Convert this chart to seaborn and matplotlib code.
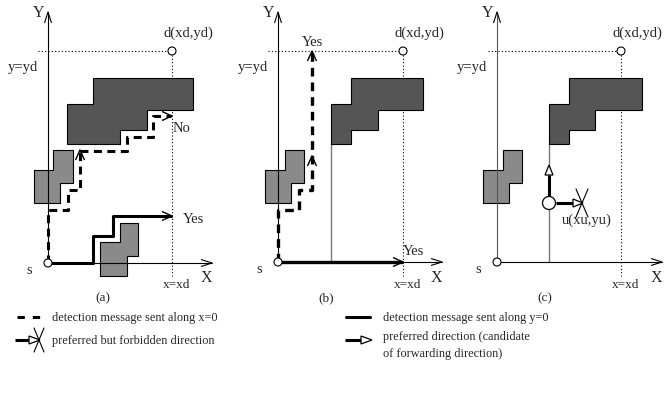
import matplotlib
matplotlib.use("Agg")
import matplotlib.pyplot as plt
import seaborn as sns
import numpy as np
import pandas as pd
from matplotlib.patches import Polygon, Circle

sns.set_theme(style="white")
plt.rcParams['font.family'] = ['Liberation Serif', 'DejaVu Serif']

# ---------------- data (pixel-space diagram geometry) ----------------
panel_labels = ["(a)", "(b)", "(c)"]
origins = [(48, 264), (278, 263), (497, 263)]
dest = [(172, 52), (403, 52), (621, 52)]
x_axis_end = [212, 442, 662]
y_axis_top = 13
dotted_left = [38, 268, 488]

dark_a = [(93, 79), (193, 79), (193, 111), (147, 111), (147, 131), (120, 131), (120, 145), (67, 145), (67, 105), (93, 105)]
dark_b = [(351, 79), (423, 79), (423, 111), (378, 111), (378, 131), (351, 131), (351, 145), (331, 145), (331, 105), (351, 105)]
dark_c = [(569, 79), (642, 79), (642, 111), (595, 111), (595, 131), (569, 131), (569, 145), (549, 145), (549, 105), (569, 105)]
light_a = [(53, 151), (73, 151), (73, 184), (60, 184), (60, 204), (34, 204), (34, 171), (53, 171)]
light_a2 = [(120, 224), (138, 224), (138, 257), (127, 257), (127, 277), (100, 277), (100, 243), (120, 243)]
light_b = [(285, 151), (304, 151), (304, 184), (291, 184), (291, 204), (265, 204), (265, 171), (285, 171)]
light_c = [(503, 151), (522, 151), (522, 184), (509, 184), (509, 204), (483, 204), (483, 171), (503, 171)]

dash_a1 = [(48, 264), (48, 211), (68, 211), (68, 191), (80, 191), (80, 153)]
dash_a2 = [(80, 152), (127, 152), (127, 138), (153, 138), (153, 117), (171, 117)]
solid_a = [(48, 264), (93, 264), (93, 237), (113, 237), (113, 217), (171, 217)]
dash_b = [(278, 263), (278, 211), (299, 211), (299, 191), (312, 191), (312, 53)]
solid_b = [(278, 263), (402, 263)]
thin_b = [(331, 145), (331, 263)]
thin_c = [(549, 145), (549, 263)]

node_u = (549, 204)

legend_text = ["detection message sent along x=0", "detection message sent along y=0",
               "preferred but forbidden direction", "preferred direction (candidate\nof forwarding direction)"]

# ---------------- drawing ----------------
fig = plt.figure(figsize=(6.67, 4.02), dpi=100)
ax = fig.add_axes([0, 0, 1, 1])
ax.set_xlim(0, 667)
ax.set_ylim(402, 0)
ax.axis("off")

FS = 10.5
DARK = "#555555"
LIGHT = "#8a8a8a"


def path(pts, **kw):
    df = pd.DataFrame(pts, columns=["x", "y"])
    sns.lineplot(data=df, x="x", y="y", sort=False, estimator=None, ax=ax, legend=False, **kw)


def chevron(tip, d, L=10, W=4.5, lw=1.0):
    d = np.array(d, float)
    d /= np.linalg.norm(d)
    p = np.array([-d[1], d[0]])
    t = np.array(tip, float)
    a = t - L * d + W * p
    b = t - L * d - W * p
    ax.plot([a[0], t[0], b[0]], [a[1], t[1], b[1]], color="black", lw=lw, solid_capstyle="butt", zorder=6)


def hollow_arrow(start, end, lw=2.2, head_len=10, head_w=4):
    s = np.array(start, float)
    e = np.array(end, float)
    d = (e - s) / np.linalg.norm(e - s)
    p = np.array([-d[1], d[0]])
    base = e - head_len * d
    ax.plot([s[0], base[0]], [s[1], base[1]], color="black", lw=lw, solid_capstyle="butt")
    tri = [base + head_w * p, e, base - head_w * p]
    ax.add_patch(Polygon(tri, closed=True, facecolor="white", edgecolor="black", lw=0.9, zorder=5))


def cross(c, w=6, h=14):
    ax.plot([c[0] - w, c[0] + w], [c[1] - h, c[1] + h], color="black", lw=0.8, zorder=6)
    ax.plot([c[0] + w, c[0] - w], [c[1] - h, c[1] + h], color="black", lw=0.8, zorder=6)


# obstacles
for poly, col in [(dark_a, DARK), (dark_b, DARK), (dark_c, DARK),
                  (light_a, LIGHT), (light_a2, LIGHT), (light_b, LIGHT), (light_c, LIGHT)]:
    ax.add_patch(Polygon(poly, closed=True, facecolor=col, edgecolor="black", lw=0.8, zorder=2))

# thin gray vertical lines
for seg in [thin_b, thin_c]:
    path(seg, color="#777777", lw=1.0, zorder=1)

for i, ((ox, oy), (dx, dy)) in enumerate(zip(origins, dest)):
    # axes
    ax.plot([ox, x_axis_end[i]], [oy, oy], color="black", lw=0.8, zorder=3)
    ax.plot([ox, ox], [oy, y_axis_top], color="black" if i != 2 else "#555555", lw=0.8, zorder=3)
    chevron((x_axis_end[i], oy), (1, 0), L=11, W=3.5, lw=0.8)
    chevron((ox, y_axis_top), (0, -1), L=11, W=3.5, lw=0.8)
    # dotted guides
    ax.plot([dotted_left[i], dx - 4], [dy, dy], color="black", lw=0.8, ls=(0, (1, 2)), zorder=1)
    ax.plot([dx, dx], [dy + 4, 277], color="black", lw=0.8, ls=(0, (1, 2)), zorder=1)
    # nodes
    ax.add_patch(Circle((ox, oy), 4, facecolor="white", edgecolor="black", lw=0.8, zorder=7))
    ax.add_patch(Circle((dx, dy), 4, facecolor="white", edgecolor="black", lw=0.8, zorder=7))
    # labels
    ax.text(ox - 9, y_axis_top, "Y", fontsize=FS + 1, ha="center", va="center")
    ax.text(x_axis_end[i] - 6, 278, "X", fontsize=FS + 1, ha="center", va="center")
    ax.text(ox - 19, oy + 7, "s", fontsize=FS, ha="center", va="center")
    ax.text(dx + 16, 33, "d(xd,yd)", fontsize=FS, ha="center", va="center")
    ax.text(ox - 25, 68, "y=yd", fontsize=FS, ha="center", va="center")
    ax.text(dx + 5, 285, "x=xd", fontsize=FS - 1, ha="center", va="center")
    ax.text(ox + 55 if i == 0 else ox + 48, 298, panel_labels[i], fontsize=FS - 1, ha="center", va="center")

# ----- panel (a) paths
DASH = (2.6, 1.8)
path(dash_a1, color="black", lw=2.2, dashes=DASH, zorder=4)
path(dash_a2, color="black", lw=2.2, dashes=DASH, zorder=4)
path(solid_a, color="black", lw=2.2, zorder=4)
chevron((80, 151), (0, -1))
chevron((172, 117), (1, 0))
chevron((172, 217), (1, 0))
ax.text(182, 128, "No", fontsize=FS, ha="center", va="center")
ax.text(193, 220, "Yes", fontsize=FS, ha="center", va="center")

# ----- panel (b) paths
path(dash_b, color="black", lw=2.4, dashes=DASH, zorder=4)
path(solid_b, color="black", lw=2.4, zorder=4)
chevron((312, 157), (0, -1))
chevron((312, 52), (0, -1))
chevron((403, 263), (1, 0))
ax.text(312, 42, "Yes", fontsize=FS, ha="center", va="center")
ax.text(413, 252, "Yes", fontsize=FS, ha="center", va="center")

# ----- panel (c)
ax.add_patch(Circle(node_u, 6.5, facecolor="white", edgecolor="black", lw=0.9, zorder=7))
hollow_arrow((node_u[0], node_u[1] - 6.5), (node_u[0], 166))
hollow_arrow((node_u[0] + 6.5, node_u[1]), (583, node_u[1]))
cross((582, node_u[1]), w=6, h=14)
ax.text(587, 220, "u(xu,yu)", fontsize=FS, ha="center", va="center")

# ----- legend
LFS = 8.8
ax.plot([17, 41], [318, 318], color="black", lw=2.2, dashes=(2.4, 2.6))
ax.text(52, 318, legend_text[0], fontsize=LFS, ha="left", va="center")
ax.plot([346, 370], [318, 318], color="black", lw=2.2)
ax.text(383, 318, legend_text[1], fontsize=LFS, ha="left", va="center")
hollow_arrow((15, 341), (40, 341), lw=2.2, head_len=11, head_w=4)
cross((39, 341), w=5, h=12)
ax.text(52, 341, legend_text[2], fontsize=LFS, ha="left", va="center")
hollow_arrow((345, 341), (372, 341), lw=2.2, head_len=11, head_w=4)
ax.text(383, 345.5, legend_text[3], fontsize=LFS, ha="left", va="center", linespacing=1.45)

fig.savefig("out.png", dpi=100)
